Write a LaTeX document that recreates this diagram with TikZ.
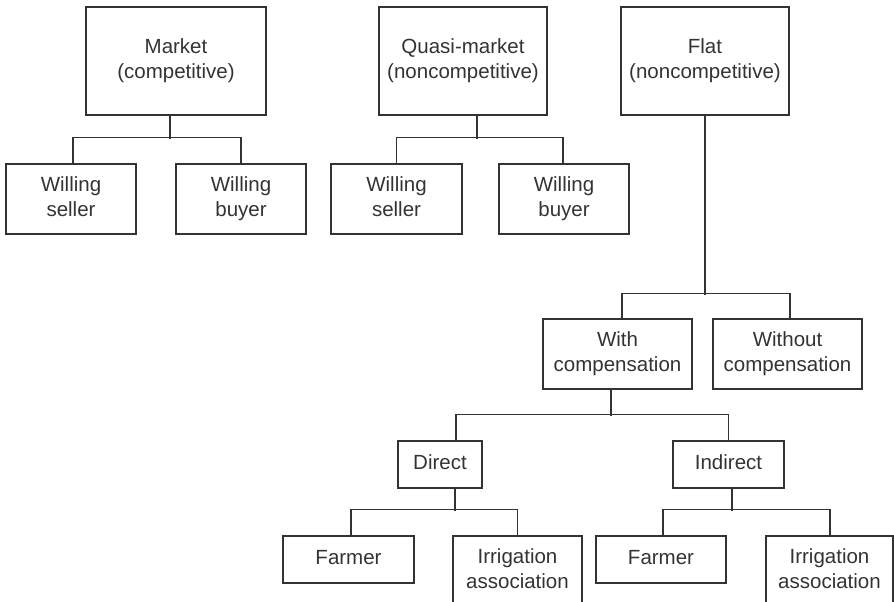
\documentclass[tikz,border=0pt]{standalone}
\usepackage{fontspec}
\setmainfont{Liberation Sans}
\definecolor{ink}{HTML}{333333}
\tikzset{
  box/.style={draw=ink, line width=1.4pt, text=ink, align=center, inner sep=0pt,
    font=\fontsize{20.5}{25}\selectfont},
  conn/.style={draw=ink, line width=1.4pt}
}
\begin{document}
\begin{tikzpicture}[x=1pt,y=-1pt]
\useasboundingbox (0,0) rectangle (894,602);
\clip (0,0) rectangle (894,602);
% top level
\node[box, minimum width=180pt, minimum height=108pt] (market) at (176,61) {\strut Market\\\strut (competitive)};
\node[box, minimum width=168pt, minimum height=108pt] (quasi) at (463,61) {\strut Quasi-market\\\strut (noncompetitive)};
\node[box, minimum width=168pt, minimum height=108pt] (flat) at (705,61) {\strut Flat\\\strut (noncompetitive)};
% second level
\node[box, minimum width=130pt, minimum height=70pt] (seller1) at (71,199) {\strut Willing\\\strut seller};
\node[box, minimum width=130pt, minimum height=70pt] (buyer1) at (241,199) {\strut Willing\\\strut buyer};
\node[box, minimum width=131pt, minimum height=70pt] (seller2) at (396.5,199) {\strut Willing\\\strut seller};
\node[box, minimum width=130pt, minimum height=70pt] (buyer2) at (564,199) {\strut Willing\\\strut buyer};
% flat branch
\node[box, minimum width=149pt, minimum height=70pt] (withc) at (617.5,354) {\strut With\\\strut compensation};
\node[box, minimum width=149pt, minimum height=70pt] (without) at (787.5,354) {\strut Without\\\strut compensation};
\node[box, minimum width=84pt, minimum height=47pt] (direct) at (440,464.5) {\strut Direct};
\node[box, minimum width=111pt, minimum height=47pt] (indirect) at (728.5,464.5) {\strut Indirect};
\node[box, minimum width=131pt, minimum height=47pt] (farmer1) at (348.5,559.5) {\strut Farmer};
\node[box, minimum width=129pt, minimum height=70pt] (irr1) at (517.5,571) {\strut Irrigation\\\strut association};
\node[box, minimum width=130pt, minimum height=47pt] (farmer2) at (661,559.5) {\strut Farmer};
\node[box, minimum width=127pt, minimum height=70pt] (irr2) at (829.5,571) {\strut Irrigation\\\strut association};
% connectors
\draw[conn] ([xshift=-6pt]market.south) -- ++(0,23);
\draw[conn] ([xshift=2pt]seller1.north) -- ++(0,-26) -| (buyer1.north);
\draw[conn] ([xshift=14pt]quasi.south) -- ++(0,23);
\draw[conn] (seller2.north) -- ++(0,-26) -| ([xshift=-1pt]buyer2.north);
\draw[conn] (flat.south) -- ++(0,179);
\draw[conn] ([xshift=4.5pt]withc.north) -- ++(0,-25) -| ([xshift=2.5pt]without.north);
\draw[conn] ([xshift=-6.5pt]withc.south) -- ++(0,26);
\draw[conn] ([xshift=16pt]direct.north) -- ++(0,-26) -| (indirect.north);
\draw[conn] ([xshift=15pt]direct.south) -- ++(0,22);
\draw[conn] ([xshift=2.5pt]farmer1.north) -- ++(0,-26) -| (irr1.north);
\draw[conn] ([xshift=3.5pt]indirect.south) -- ++(0,22);
\draw[conn] ([xshift=2pt]farmer2.north) -- ++(0,-26) -| ([xshift=0.5pt]irr2.north);
\end{tikzpicture}
\end{document}
